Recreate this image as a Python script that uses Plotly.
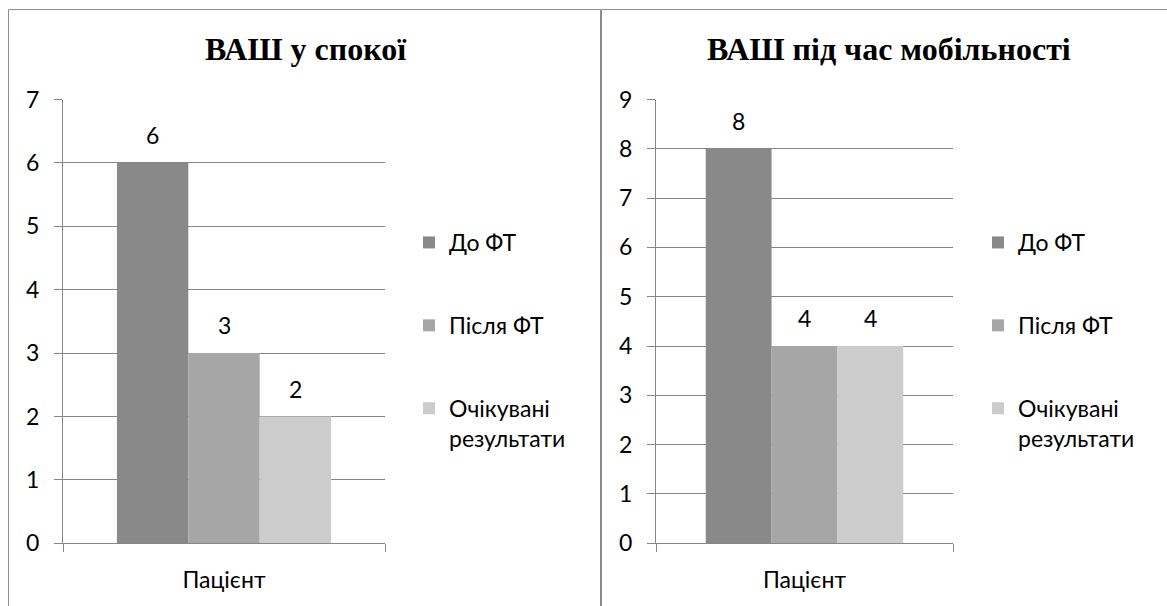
import plotly.graph_objects as go

# Pain scores (ВАШ) for one patient, two panels
category = ["Пацієнт"]
series_names = ["До ФТ", "Після ФТ", "Очікувані<br>результати"]
series_colors = ["#898989", "#a6a6a6", "#cccccc"]
rest_values = [6, 3, 2]
mobility_values = [8, 4, 4]
rest_title = "ВАШ у спокої"
mobility_title = "ВАШ під час мобільності"
rest_ticks = list(range(0, 8))
mobility_ticks = list(range(0, 10))

W, H = 1167, 606
BARGAP = 0.335
GRID = "#868686"
TICK_FONT = dict(family="Lato", size=23, color="#000000")


def px_x(p):
    return p / W


def px_y(p):
    return 1 - p / H


fig = go.Figure()

panels = [
    dict(values=rest_values, xa="x", ya="y", legend="legend", ticks=rest_ticks,
         title=rest_title),
    dict(values=mobility_values, xa="x2", ya="y2", legend="legend2", ticks=mobility_ticks,
         title=mobility_title),
]

for panel in panels:
    for i, (name, color, v) in enumerate(zip(series_names, series_colors, panel["values"])):
        fig.add_trace(go.Bar(
            x=category, y=[v], name=name, marker=dict(color=color, line=dict(width=0)),
            xaxis=panel["xa"], yaxis=panel["ya"], legend=panel["legend"],
            legendgroup=f"{panel['legend']}_{i}", hoverinfo="skip",
        ))

# value labels above bars, positioned from bar geometry on the category axis
n = len(series_names)
bw = (1 - BARGAP) / n
for panel in panels:
    for i, v in enumerate(panel["values"]):
        fig.add_annotation(
            x=-(1 - BARGAP) / 2 + bw * (i + 0.5), y=v, xref=panel["xa"], yref=panel["ya"],
            text=str(v), showarrow=False, yanchor="bottom", yshift=12,
            font=TICK_FONT,
        )

ydom = [px_y(543.3), px_y(99.5)]
axis_common_y = dict(
    domain=ydom, showgrid=True, gridcolor=GRID, gridwidth=1, showline=True,
    linecolor=GRID, linewidth=1, ticks="outside", ticklen=8, tickcolor=GRID,
    tickfont=TICK_FONT, zeroline=False, ticklabelstandoff=10, fixedrange=True,
    automargin=False,
)
axis_common_x = dict(
    showgrid=False, showline=True, linecolor=GRID, linewidth=1, ticks="outside",
    ticklen=8, tickcolor=GRID, tickson="boundaries", tickfont=TICK_FONT,
    ticklabelstandoff=16, fixedrange=True, range=[-0.5, 0.5], automargin=False,
)

legend_common = dict(
    xanchor="left", yanchor="top", font=TICK_FONT, bgcolor="rgba(0,0,0,0)",
    tracegroupgap=50, valign="top", itemclick=False, itemdoubleclick=False,
)

fig.update_layout(
    width=W, height=H, margin=dict(l=0, r=0, t=0, b=0, pad=0, autoexpand=False),
    paper_bgcolor="#ffffff", plot_bgcolor="#ffffff",
    bargap=BARGAP, bargroupgap=0, barmode="group",
    xaxis=dict(domain=[px_x(63), px_x(385)], anchor="y", **axis_common_x),
    yaxis=dict(anchor="x", range=[0, rest_ticks[-1]], tickvals=rest_ticks, **axis_common_y),
    xaxis2=dict(domain=[px_x(656), px_x(953)], anchor="y2", **axis_common_x),
    yaxis2=dict(anchor="x2", range=[0, mobility_ticks[-1]], tickvals=mobility_ticks,
                **axis_common_y),
    legend=dict(x=px_x(409), y=px_y(221), **legend_common),
    legend2=dict(x=px_x(978), y=px_y(221), **legend_common),
    showlegend=True,
)

# chart frames
fig.add_shape(type="rect", xref="paper", yref="paper",
              x0=px_x(8.5), x1=px_x(600.5), y0=-0.1, y1=px_y(9.5),
              line=dict(color="#8c8c8c", width=1), fillcolor="rgba(0,0,0,0)", layer="below")
fig.add_shape(type="rect", xref="paper", yref="paper",
              x0=px_x(601.5), x1=1.1, y0=-0.1, y1=px_y(9.5),
              line=dict(color="#8c8c8c", width=1), fillcolor="rgba(0,0,0,0)", layer="below")

# panel titles
for panel, cx in zip(panels, [306, 889]):
    fig.add_annotation(
        x=px_x(cx), y=px_y(49), xref="paper", yref="paper", text=f"<b>{panel['title']}</b>",
        showarrow=False, xanchor="center", yanchor="middle",
        font=dict(family="Liberation Serif", size=32, color="#000000"),
    )

fig.write_html("out.html")
